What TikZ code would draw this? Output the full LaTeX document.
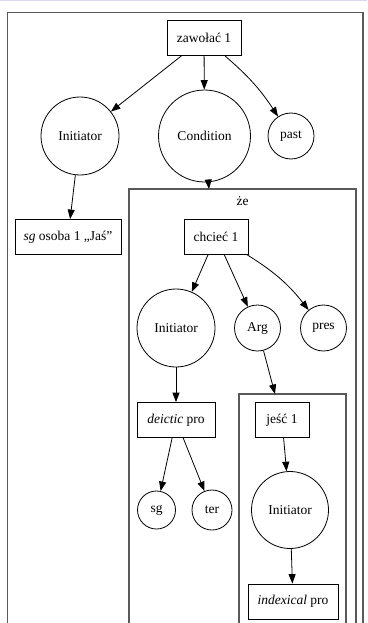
\documentclass[tikz,border=0pt]{standalone}
\usepackage{fontspec}
\setmainfont{Liberation Serif}
\usetikzlibrary{arrows.meta}
\definecolor{bandtop}{RGB}{221,214,238}
\begin{document}
\begin{tikzpicture}[x=1pt,y=-1pt,
  every node/.style={font=\fontsize{13.5}{16}\selectfont, inner sep=0pt},
  box/.style={draw, line width=0.8pt, rectangle, minimum height=35pt},
  role/.style={draw, line width=0.8pt, circle},
  frame/.style={draw=black!65, line width=1.3pt},
  link/.style={line width=0.8pt, -{Triangle[length=9.5pt,width=7pt]}},
]
\useasboundingbox (0,0) rectangle (367,623);
\fill[bandtop] (0,0) rectangle (367,1.5);

% nested frames, open at the bottom
\draw[frame] (7.5,623) |- (363,12.5) -- (363,623);
\draw[frame] (129,623) |- (356,189) -- (356,623);
\draw[frame] (239,623) |- (346,394) -- (346,623);
\node (zelabel) at (242.5,201) {że};
\coordinate (zetop) at (209,189);
\coordinate (jetop) at (275,394);

% top level
\node[box, minimum width=74pt] (zaw) at (204,38) {zawołać 1};
\node[role, minimum size=78pt] (ini1) at (80,136) {Initiator};
\node[role, minimum size=92pt] (cond) at (204.5,136) {Condition};
\node[role, minimum size=46pt] (past) at (291,136) {past};
\node[box, minimum width=106pt] (jas) at (68,237) {\textit{sg} osoba 1 „Jaś”};

% clause "że"
\node[box, minimum width=64pt] (chc) at (216,236.5) {chcieć 1};
\node[role, minimum size=78pt] (ini2) at (176,328) {Initiator};
\node[role, minimum size=46pt] (arg) at (257.5,328) {Arg};
\node[role, minimum size=46pt] (pres) at (323.5,328) {pres};
\node[box, minimum width=78pt] (deic) at (176,420) {\textit{deictic} pro};
\node[role, minimum size=38pt] (sg) at (156.5,510) {sg};
\node[role, minimum size=40pt] (ter) at (212,510) {ter};

% embedded clause
\node[box, minimum width=54pt] (jesc) at (282,420) {jeść 1};
\node[role, minimum size=77pt] (ini3) at (290,510) {Initiator};
\node[box, minimum width=90pt] (idx) at (293,601.5) {\textit{indexical} pro};

% connectors
\draw[link] (zaw) -- (ini1);
\draw[link] (zaw) -- (cond);
\draw[link] (zaw) to[bend left=8] (past);
\draw[link] (ini1) -- (jas);
\draw[link] (cond) -- (zetop);
\draw[link] (chc) -- (ini2);
\draw[link] (chc) -- (arg);
\draw[link] (chc) to[bend left=10] (pres);
\draw[link] (ini2) -- (deic);
\draw[link] (arg) -- (jetop);
\draw[link] (deic) -- (sg);
\draw[link] (deic) -- (ter);
\draw[link] (jesc) -- (ini3);
\draw[link] (ini3) -- (idx);
\end{tikzpicture}
\end{document}
